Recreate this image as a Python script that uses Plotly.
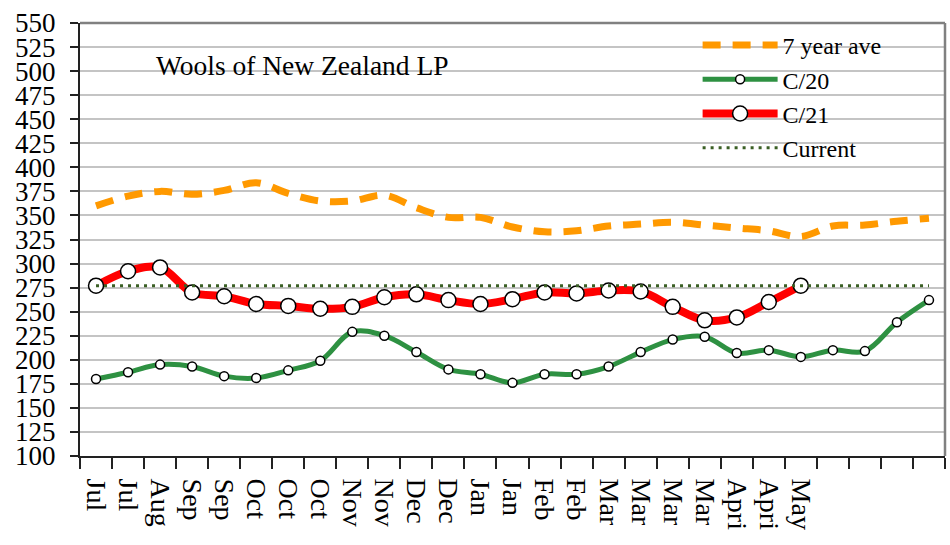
import plotly.graph_objects as go

tick_labels = ["Jul", "Jul", "Aug", "Sep", "Sep", "Oct", "Oct", "Oct", "Nov", "Nov",
               "Dec", "Dec", "Jan", "Jan", "Feb", "Feb", "Mar", "Mar", "Mar", "Mar",
               "Apri", "Apri", "May", "", "", "", ""]

ave7 = [360, 370, 375, 372, 376, 384, 373, 365, 365, 371, 358, 348, 348, 338,
        333, 334, 339, 341, 343, 340, 337, 334, 328, 339, 340, 344, 347]
c20 = [180, 187, 195, 193, 183, 181, 189, 199, 229, 225, 208, 190, 185, 176,
       185, 185, 193, 208, 221, 224, 207, 210, 203, 210, 209, 239, 262]
c21 = [277, 292, 296, 270, 266, 258, 256, 253, 255, 265, 268, 262, 258, 263,
       270, 269, 272, 271, 255, 241, 244, 260, 277]
current = [277] * 27

x_all = list(range(len(tick_labels)))
FONT = "Liberation Serif"

fig = go.Figure()
fig.add_trace(go.Scatter(x=x_all, y=ave7, name="7 year ave", mode="lines",
                         line=dict(color="#FF9900", width=7, dash="18px,12px", shape="spline")))
fig.add_trace(go.Scatter(x=x_all, y=c20, name="C/20", mode="lines+markers",
                         line=dict(color="#2E9142", width=5, shape="spline"),
                         marker=dict(size=9, color="white", line=dict(color="black", width=1.5))))
fig.add_trace(go.Scatter(x=x_all[:len(c21)], y=c21, name="C/21", mode="lines+markers",
                         line=dict(color="#FF0000", width=8, shape="spline"),
                         marker=dict(size=15, color="white", line=dict(color="black", width=1.5))))
fig.add_trace(go.Scatter(x=x_all, y=current, name="Current", mode="lines",
                         line=dict(color="#3A5F24", width=3, dash="3px,5px")))

n = len(tick_labels)
fig.update_layout(
    width=950, height=545,
    margin=dict(l=80, r=5, t=23, b=89),
    paper_bgcolor="white", plot_bgcolor="white",
    font=dict(family=FONT, color="black"),
    showlegend=True,
    legend=dict(x=0.714, y=1.0, xanchor="left", yanchor="top",
                bgcolor="rgba(0,0,0,0)", font=dict(size=24, family=FONT),
                itemwidth=75, tracegroupgap=0),
    xaxis=dict(range=[-0.5, n - 0.5], tickmode="array", tickvals=x_all, ticktext=tick_labels,
               tickangle=90, tickfont=dict(size=28, family=FONT), automargin=False,
               ticks="outside", ticklen=11, tickcolor="rgba(0,0,0,0)",
               ticklabelstandoff=4,
               showgrid=False, zeroline=False, showline=True, linecolor="#222", linewidth=2,
               minor=dict(tickmode="array", tickvals=[i - 0.5 for i in range(n + 1)],
                          ticks="outside", ticklen=11, tickcolor="#222", tickwidth=1.5,
                          showgrid=False)),
    yaxis=dict(range=[100, 550], tickmode="linear", tick0=100, dtick=25,
               tickfont=dict(size=27, family=FONT), automargin=False,
               ticks="outside", ticklen=8, tickcolor="#222", tickwidth=1.5,
               ticklabelstandoff=9,
               showgrid=True, gridcolor="#C4C4C4", gridwidth=2,
               zeroline=False, showline=True, linecolor="#222", linewidth=2),
    shapes=[
        dict(type="rect", xref="paper", yref="y", x0=0.008, x1=0.505, y0=484, y1=537,
             fillcolor="white", line=dict(width=0), layer="between"),
        dict(type="rect", xref="paper", yref="y", x0=0.696, x1=0.962, y0=412, y1=540,
             fillcolor="white", line=dict(width=0), layer="between"),
        dict(type="line", xref="paper", yref="paper", x0=0, x1=1, y0=1, y1=1,
             line=dict(color="#808080", width=2.5)),
        dict(type="line", xref="paper", yref="paper", x0=1, x1=1, y0=0, y1=1,
             line=dict(color="#808080", width=2.5)),
    ],
    annotations=[
        dict(text="Wools of New Zealand LP", xref="paper", yref="y", x=0.257, y=506,
             xanchor="center", yanchor="middle",
             showarrow=False, font=dict(size=27.5, family=FONT, color="black"))
    ],
)

fig.write_html("out.html", config={"displayModeBar": False},
               post_script="document.body.style.margin='0';")
